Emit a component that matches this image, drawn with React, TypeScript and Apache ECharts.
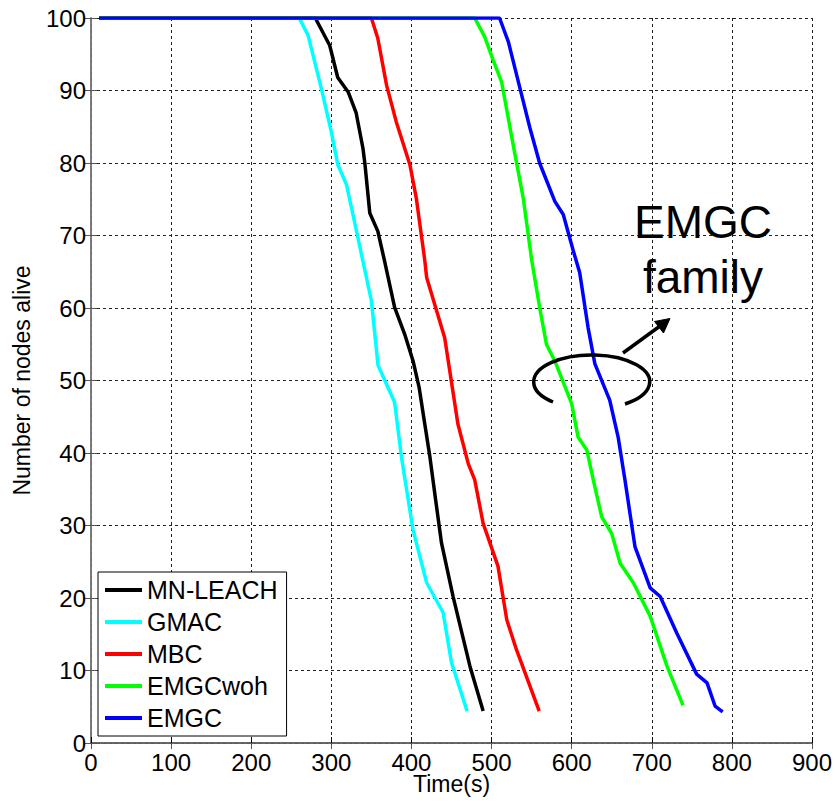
import React, { useEffect, useRef } from "react";
import * as echarts from "echarts";

const seriesNames = ["MN-LEACH", "GMAC", "MBC", "EMGCwoh", "EMGC"];
const seriesColors = ["#000000", "#00FFFF", "#FF0000", "#00FF00", "#0000FF"];

const mnLeachX = [10, 280, 298, 308, 321, 331, 339.5, 342, 348, 358, 366, 379, 391.5, 402, 409.5, 416.5, 423, 430, 437.5, 452, 473, 489.5];
const mnLeachY = [100, 100, 96.2, 91.8, 89.8, 86.9, 82, 79.8, 73.1, 70.6, 66.7, 60.1, 56.4, 52.7, 49.1, 44.1, 39.5, 33.7, 27.6, 20.2, 10.6, 4.4];

const gmacX = [10, 260, 271, 287.5, 300, 308, 319, 339, 350, 358.3, 379, 387.5, 392, 402, 419, 439.5, 450, 469.5];
const gmacY = [100, 100, 97.6, 90.3, 84.3, 79.8, 77, 66.7, 61, 52.1, 47, 39.5, 36.3, 29.4, 22.1, 18, 11.1, 4.4];

const mbcX = [10, 350, 358, 369, 381, 398, 406, 416.5, 419, 441.5, 458, 471, 479, 489.5, 508, 519, 531, 559.5];
const mbcY = [100, 100, 97.2, 90.7, 85.7, 79.8, 75.2, 66.7, 64.2, 55.9, 44, 38.5, 36.3, 30.3, 24.4, 17, 12.9, 4.4];

const emgcwohX = [10, 479, 491.5, 502, 512.5, 527, 539.5, 550, 560, 568.5, 579, 600, 608, 619, 627, 637.5, 650, 660.5, 677, 698, 719, 739];
const emgcwohY = [100, 100, 97.4, 94.2, 91.2, 82.5, 75.2, 66.7, 60.1, 55, 52.7, 46.8, 42.2, 40.4, 36.3, 31.2, 28.9, 24.8, 22.1, 17.5, 10.6, 5.2];

const emgcX = [10, 510, 521, 535.5, 548, 560, 579, 589.5, 602, 610, 620.5, 629, 647.5, 658, 666.5, 679, 698, 710.5, 731, 756, 769, 779, 788.5];
const emgcY = [100, 100, 96.7, 90.3, 84.8, 80, 74.7, 72.9, 67.9, 64.9, 57.3, 52.3, 47.3, 42.2, 36.3, 27.1, 21.4, 20.2, 15.2, 9.5, 8.3, 5.1, 4.3];

const xTicks = [0, 100, 200, 300, 400, 500, 600, 700, 800, 900];
const yTicks = [0, 10, 20, 30, 40, 50, 60, 70, 80, 90, 100];

const allX = [mnLeachX, gmacX, mbcX, emgcwohX, emgcX];
const allY = [mnLeachY, gmacY, mbcY, emgcwohY, emgcY];

const FONT = "Liberation Sans, Arial, sans-serif";

let shapeRegistered = false;

export default function App() {
  const ref = useRef<HTMLDivElement>(null);

  useEffect(() => {
    if (!ref.current) return;
    if (!shapeRegistered) {
      echarts.graphic.registerShape(
        "ellipseArc",
        echarts.graphic.extendPath("M-39 22 A58 27 0 1 1 33 24", {}) as any
      );
      shapeRegistered = true;
    }
    const chart = echarts.init(ref.current, null, { renderer: "svg" });

    const series = seriesNames.map((name, i) => ({
      name,
      type: "line",
      xAxisIndex: 0,
      yAxisIndex: 0,
      data: allX[i].map((x, j) => [x, allY[i][j]]),
      showSymbol: false,
      symbol: "none",
      lineStyle: { color: seriesColors[i], width: 3.5 },
      itemStyle: { color: seriesColors[i] },
      z: 2 + i,
    }));

    const xMin = xTicks[0];
    const xMax = xTicks[xTicks.length - 1];
    const yMin = yTicks[0];
    const yMax = yTicks[yTicks.length - 1];

    chart.setOption({
      animation: false,
      backgroundColor: "#ffffff",
      textStyle: { fontFamily: FONT },
      grid: { left: 91, right: 23, top: 18, bottom: 59, containLabel: false, outerBoundsMode: "none" },
      legend: {
        data: seriesNames,
        orient: "vertical",
        left: 98,
        top: 572,
        padding: [5, 9, 5, 7],
        itemGap: 6,
        itemWidth: 37,
        itemHeight: 4,
        icon: "rect",
        backgroundColor: "#ffffff",
        borderColor: "#000000",
        borderWidth: 1,
        borderRadius: 0,
        textStyle: { fontFamily: FONT, fontSize: 25, color: "#000", lineHeight: 26, padding: [0, 0, 0, 0] },
      },
      xAxis: [
        {
          type: "value",
          min: xMin,
          max: xMax,
          interval: 100,
          name: "Time(s)",
          nameLocation: "middle",
          nameGap: 29,
          nameMoveOverlap: false,
          nameTextStyle: { fontFamily: FONT, fontSize: 23, color: "#000", lineHeight: 24 },
          axisLine: { show: true, lineStyle: { color: "#000", width: 1.5 } },
          axisTick: { show: true, inside: true, length: 6, lineStyle: { color: "#000" } },
          axisLabel: { fontFamily: FONT, fontSize: 24, color: "#000", margin: 7 },
          splitLine: { show: true, lineStyle: { color: "#222", width: 1, type: [3, 3] } },
        },
        {
          type: "value",
          position: "top",
          min: xMin,
          max: xMax,
          interval: 100,
          axisLine: { show: true, lineStyle: { color: "#777", width: 1.5 } },
          axisTick: { show: true, inside: true, length: 6, lineStyle: { color: "#555" } },
          axisLabel: { show: false },
          splitLine: { show: false },
        },
      ],
      yAxis: [
        {
          type: "value",
          min: yMin,
          max: yMax,
          interval: 10,
          name: "Number of nodes alive",
          nameLocation: "middle",
          nameGap: 58,
          nameMoveOverlap: false,
          nameTextStyle: { fontFamily: FONT, fontSize: 23, color: "#000" },
          axisLine: { show: true, lineStyle: { color: "#666", width: 1.5 } },
          axisTick: { show: true, inside: true, length: 6, lineStyle: { color: "#555" } },
          axisLabel: { fontFamily: FONT, fontSize: 24, color: "#000", margin: 5 },
          splitLine: { show: true, lineStyle: { color: "#222", width: 1, type: [3, 3] } },
        },
        {
          type: "value",
          position: "right",
          min: yMin,
          max: yMax,
          interval: 10,
          axisLine: { show: true, lineStyle: { color: "#777", width: 1.5 } },
          axisTick: { show: true, inside: true, length: 6, lineStyle: { color: "#555" } },
          axisLabel: { show: false },
          splitLine: { show: false },
        },
      ],
      series,
      graphic: [
        {
          type: "text",
          x: 703,
          y: 222,
          z: 100,
          style: {
            text: "EMGC",
            fontFamily: FONT,
            fontSize: 46,
            fill: "#000",
            textAlign: "center",
            textVerticalAlign: "middle",
          },
        },
        {
          type: "text",
          x: 703,
          y: 277,
          z: 100,
          style: {
            text: "family",
            fontFamily: FONT,
            fontSize: 46,
            fill: "#000",
            textAlign: "center",
            textVerticalAlign: "middle",
          },
        },
        {
          type: "ellipseArc",
          x: 592,
          y: 380,
          z: 100,
          style: { fill: "none", stroke: "#000", lineWidth: 3.5 },
        },
        {
          type: "line",
          z: 100,
          shape: { x1: 623, y1: 353, x2: 660, y2: 326 },
          style: { stroke: "#000", lineWidth: 3.5 },
        },
        {
          type: "polygon",
          z: 100,
          shape: { points: [[670, 318.5], [654.5, 321.5], [663.5, 333]] },
          style: { fill: "#000", stroke: "#000", lineWidth: 1 },
        },
      ],
    } as any);

    return () => {
      chart.dispose();
    };
  }, []);

  return (
    <div
      ref={ref}
      style={{ position: "fixed", left: 0, top: 0, width: 835, height: 802, background: "#fff" }}
    />
  );
}
